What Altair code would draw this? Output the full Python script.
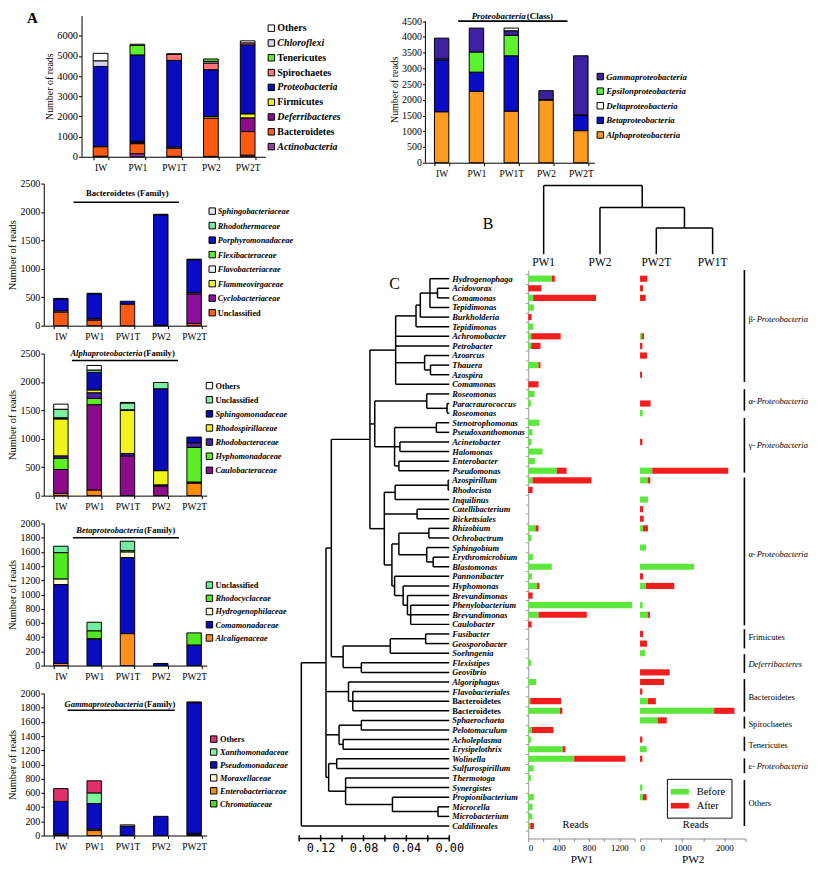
import altair as alt
import pandas as pd

FONT = "Liberation Serif"
MONO = "DejaVu Sans Mono"
GREEN = "#5BE83A"
RED = "#F21D1D"
samples = ["IW", "PW1", "PW1T", "PW2", "PW2T"]

# ---------------- Panel A : phylum level ----------------
phylum_cats = ["Actinobacteria", "Bacteroidetes", "Deferribacteres", "Firmicutes",
               "Proteobacteria", "Spirochaetes", "Tenericutes", "Chloroflexi", "Others"]
phylum_italic = [1, 0, 1, 0, 1, 0, 0, 1, 0]
phylum_colors = ["#9B3C96", "#FF5A14", "#8C0C8C", "#F2F21C", "#0B0BBE",
                 "#FF7474", "#5CEE2A", "#D6D6E8", "#FFFFFF"]
phylum_IW = [30, 470, 0, 20, 3960, 0, 0, 280, 370]
phylum_PW1 = [150, 500, 60, 60, 4280, 0, 480, 0, 50]
phylum_PW1T = [20, 400, 0, 60, 4300, 300, 0, 0, 30]
phylum_PW2 = [20, 1900, 0, 80, 2320, 330, 120, 80, 0]
phylum_PW2T = [80, 1170, 680, 200, 3420, 100, 0, 0, 100]

# ---------------- Proteobacteria (class) ----------------
class_cats = ["Alphaproteobacteria", "Betaproteobacteria", "Deltaproteobacteria",
              "Epsilonproteobacteria", "Gammaproteobacteria"]
class_italic = [1, 1, 1, 1, 1]
class_colors = ["#FF9A1E", "#0B0BC8", "#FFFFFF", "#5CF22E", "#3C22A0"]
class_IW = [1620, 1650, 30, 0, 660]
class_PW1 = [2270, 610, 0, 640, 760]
class_PW1T = [1640, 1760, 90, 650, 140]
class_PW2 = [1990, 20, 0, 0, 280]
class_PW2T = [1020, 480, 20, 0, 1880]

# ---------------- Bacteroidetes (family) ----------------
bact_cats = ["Unclassified", "Cyclobacteriaceae", "Flammeovirgaceae", "Flavobacteriaceae",
             "Flexibacteraceae", "Porphyromonadaceae", "Rhodothermaceae", "Sphingobacteriaceae"]
bact_italic = [0, 1, 1, 1, 1, 1, 1, 1]
bact_colors = ["#FF5A14", "#8C0C9C", "#F2F21C", "#EEF6FF", "#5CEE2A", "#0B0BC8", "#78E8A0", "#E4E4EE"]
bact_IW = [240, 0, 20, 0, 0, 210, 0, 10]
bact_PW1 = [100, 30, 0, 0, 0, 430, 0, 10]
bact_PW1T = [380, 0, 0, 0, 0, 50, 0, 0]
bact_PW2 = [0, 0, 10, 0, 0, 1940, 0, 10]
bact_PW2T = [40, 520, 20, 0, 0, 580, 0, 10]

# ---------------- Alphaproteobacteria (family) ----------------
alpha_cats = ["(unlabeled)", "Caulobacteraceae", "Hyphomonadaceae", "Rhodobacteraceae",
              "Rhodospirillaceae", "Sphingomonadaceae", "Unclassified", "Others"]
alpha_italic = [0, 1, 1, 1, 1, 1, 0, 0]
alpha_colors = ["#FF8C00", "#8C0C8C", "#5CEE22", "#4A22A6", "#F2F21C", "#0B0BB4", "#7EF0A0", "#FFFFFF"]
alpha_IW = [40, 420, 200, 40, 650, 20, 150, 90]
alpha_PW1 = [100, 1500, 110, 100, 50, 310, 40, 80]
alpha_PW1T = [0, 700, 0, 40, 760, 10, 120, 10]
alpha_PW2 = [0, 170, 0, 20, 250, 1440, 110, 0]
alpha_PW2T = [220, 20, 610, 80, 0, 100, 0, 0]

# ---------------- Betaproteobacteria (family) ----------------
beta_cats = ["Alcaligenaceae", "Comamonadaceae", "Hydrogenophilaceae", "Rhodocyclaceae", "Unclassified"]
beta_italic = [1, 1, 1, 1, 0]
beta_colors = ["#FF9020", "#0B0BC0", "#FFFFD2", "#50E820", "#72EC9E"]
beta_IW = [30, 1110, 80, 370, 90]
beta_PW1 = [0, 370, 10, 110, 120]
beta_PW1T = [450, 1070, 80, 20, 130]
beta_PW2 = [0, 30, 0, 0, 0]
beta_PW2T = [0, 290, 0, 170, 0]

# ---------------- Gammaproteobacteria (family) ----------------
gamma_cats = ["Chromatiaceae", "Enterobacteriaceae", "Moraxellaceae", "Pseudomonadaceae",
              "Xanthomonadaceae", "Others"]
gamma_italic = [1, 1, 1, 1, 1, 0]
gamma_colors = ["#48DD22", "#FF8C00", "#FFFFD2", "#0B0BC0", "#7EF59A", "#E2306E"]
gamma_IW = [0, 20, 0, 460, 0, 180]
gamma_PW1 = [0, 70, 20, 360, 150, 170]
gamma_PW1T = [0, 0, 20, 130, 0, 0]
gamma_PW2 = [0, 0, 0, 270, 0, 0]
gamma_PW2T = [15, 0, 15, 1840, 0, 10]

# ---------------- Panel B : sample clustering ----------------
b_leaves = ["PW1", "PW2", "PW2T", "PW1T"]
b_tree = (1.0, [0, (0.68, [1, (0.38, [2, 3])])])

# ---------------- Panel C : genera ----------------
taxa = ["Hydrogenophaga", "Acidovorax", "Comamonas", "Tepidimonas", "Burkholderia", "Tepidimonas",
        "Achromobacter", "Petrobacter", "Azoarcus", "Thauera", "Azospira", "Comamonas",
        "Roseomonas", "Paracraurococcus", "Roseomonas", "Stenotrophomonas", "Pseudoxanthomonas",
        "Acinetobacter", "Halomonas", "Enterobacter", "Pseudomonas", "Azospirillum", "Rhodocista",
        "Inquilinus", "Catellibacterium", "Rickettsiales", "Rhizobium", "Ochrobactrum",
        "Sphingobium", "Erythromicrobium", "Blastomonas", "Pannonibacter", "Hyphomonas",
        "Brevundimonas", "Phenylobacterium", "Brevundimonas", "Caulobacter", "Fusibacter",
        "Geosporobacter", "Soehngenia", "Flexistipes", "Geovibrio", "Algoriphagus",
        "Flavobacteriales", "Bacteroidetes", "Bacteroidetes", "Sphaerochaeta", "Pelotomaculum",
        "Acholeplasma", "Erysipelothrix", "Wolinella", "Sulfurospirillum", "Thermotoga",
        "Synergistes", "Propionibacterium", "Microcella", "Microbacterium", "Caldilineales"]
taxa_italic = [0 if t == "Bacteroidetes" else 1 for t in taxa]

pw1_before = [310, 0, 65, 74, 0, 65, 39, 39, 0, 135, 0, 0, 83, 35, 0, 148, 57, 44, 187, 87,
              375, 57, 0, 0, 0, 0, 96, 44, 0, 61, 310, 48, 118, 0, 1368, 135, 0, 0, 0, 0,
              39, 0, 105, 0, 26, 418, 0, 48, 35, 453, 605, 70, 35, 0, 74, 57, 52, 26]
pw1_after = [40, 174, 828, 0, 44, 0, 388, 122, 0, 26, 0, 135, 0, 0, 0, 0, 0, 0, 0, 0,
             130, 775, 57, 0, 0, 0, 39, 0, 0, 0, 0, 0, 30, 57, 0, 636, 44, 0, 0, 0,
             0, 0, 0, 0, 405, 31, 0, 283, 0, 35, 672, 0, 0, 0, 0, 0, 0, 48]
pw2_before = [0, 0, 0, 0, 0, 0, 39, 0, 0, 0, 0, 0, 0, 0, 62, 0, 0, 0, 0, 0,
              289, 180, 0, 187, 0, 0, 70, 0, 141, 0, 1281, 0, 141, 0, 62, 180, 0, 0, 0, 117,
              0, 0, 0, 0, 187, 1757, 422, 0, 0, 156, 0, 0, 0, 55, 70, 0, 0, 0]
pw2_after = [172, 70, 133, 0, 0, 0, 55, 55, 164, 0, 47, 0, 0, 250, 0, 0, 0, 55, 0, 0,
             1804, 62, 0, 0, 70, 86, 117, 0, 0, 0, 0, 70, 671, 0, 0, 54, 0, 70, 164, 0,
             0, 703, 570, 55, 188, 484, 211, 0, 55, 0, 55, 0, 0, 0, 86, 0, 0, 0]

# dendrogram: (merge distance, [children]); integers are rows of `taxa`
beta_clade = (0.050, [(0.031, [(0.027, [(0.018, [0, (0.011, [1, 2]), 3]), 4]), 5]), 6, 7,
                      (0.023, [8, (0.0175, [9, 10])]), 11])
alphaR_clade = (0.021, [12, (0.002, [13, 14])])
gamma_clade = (0.051, [(0.012, [15, 16]), (0.046, [17, 18]), (0.047, [19, 20])])
alpha_clade = (0.0606, [(0.0505, [(0.001, [21, 22]), 23]), (0.030, [24, 25]),
                        (0.0535, [(0.047, [(0.019, [26, 27]), (0.021, [28, (0.015, [29, 30])])]),
                                  (0.051, [31, (0.043, [32, (0.039, [33, (0.036, [34, 35, 36])])])])])])
proteo_clade = (0.074, [beta_clade, (0.0695, [alphaR_clade, gamma_clade]), alpha_clade])
firm_clade = (0.099, [(0.055, [(0.022, [37, 38]), 39]), (0.082, [40, 41])])
bact_clade = (0.094, [42, (0.090, [43, 44, 45])])
spiro_clade = (0.1028, [(0.082, [46, 47]), (0.099, [48, 49])])
other_clade = (0.1125, [(0.105, [50, 51]), (0.0967, [52, 53, (0.053, [54, (0.0105, [55, 56])])])])
genus_tree = (0.138, [(0.115, [(0.110, [proteo_clade, firm_clade]), bact_clade, spiro_clade, other_clade]), 57])

group_prefix = ["β-", "α-", "γ-", "α-", "", "", "", "", "", "ε-", ""]
group_name = ["Proteobacteria", "Proteobacteria", "Proteobacteria", "Proteobacteria", "Frimicutes",
              "Deferribacteres", "Bacteroidetes", "Spirochaetes", "Tenericutes", "Proteobacteria", "Others"]
group_italic = [1, 1, 1, 1, 0, 1, 0, 0, 0, 1, 0]
group_top = [-0.9, 11.5, 14.5, 20.7, 36.5, 39.1, 41.7, 45.6, 47.7, 49.95, 52.2]
group_bottom = [10.75, 13.75, 20.2, 36.1, 38.5, 41.05, 45.1, 46.85, 49.2, 51.5, 57.0]
group_label_row = [4.25, 12.7, 17.3, 28.65, 37.35, 40.1, 43.6, 46.4, 48.6, 50.7, 54.6]


# ======================= helpers =======================
def one():
    return pd.DataFrame({"k": [0]})


def text_at(txt, x, y, size, italic=False, bold=True, align="center", font=FONT, color="black"):
    return alt.Chart(one()).mark_text(
        text=txt, align=align, baseline="middle", font=font, fontSize=size,
        fontStyle="italic" if italic else "normal",
        fontWeight="bold" if bold else "normal", color=color
    ).encode(x=alt.value(x), y=alt.value(y))


def hline(x1, x2, y, w=1.6):
    return alt.Chart(one()).mark_rule(color="black", strokeWidth=w).encode(
        x=alt.value(x1), x2=alt.value(x2), y=alt.value(y))


def spacer(w, h=10):
    return alt.Chart(one()).mark_point(opacity=0, size=1).encode(
        x=alt.value(0), y=alt.value(0)).properties(width=w, height=h)


def stack_frame(cats, series, override):
    rows = []
    for s, vals in zip(samples, series):
        for k, (c, v) in enumerate(zip(cats, vals)):
            if v > 0:
                rows.append({"sample": s, "cat": c, "value": v, "ord": override.get((s, c), k)})
    return pd.DataFrame(rows)


def bar_panel(cats, colors, italic, series, ymax, yvals, width, height, band, leg,
              titles=(), underline=None, override=None, ytitle_size=10.5, label_size=10,
              axis_top=None, extra=()):
    df = stack_frame(cats, series, override or {})
    pin, pout, palign = band
    ysc = alt.Scale(domain=[0, ymax], nice=False, zero=True)
    yax = alt.Axis(values=yvals, format="d", title="Number of reads", tickSize=3, labelPadding=1,
                   titlePadding=2, titleFontSize=ytitle_size, labelFontSize=label_size,
                   domain=axis_top is None)
    xax = alt.Axis(labelAngle=0, tickBand="extent", tickSize=3, labelPadding=3,
                   labelFontSize=9.5, title=None)
    bars = alt.Chart(df).mark_bar(stroke="black", strokeWidth=1).encode(
        x=alt.X("sample:N", sort=samples,
                scale=alt.Scale(domain=samples, paddingInner=pin, paddingOuter=pout, align=palign),
                axis=xax),
        y=alt.Y("value:Q", stack="zero", scale=ysc, axis=yax),
        color=alt.Color("cat:N", scale=alt.Scale(domain=cats, range=colors), legend=None),
        order=alt.Order("ord:Q", sort="ascending"),
    )
    layers = [bars]
    if axis_top is not None:
        layers.append(alt.Chart(one()).mark_rule(color="black", strokeWidth=1).encode(
            x=alt.value(0), y=alt.Y(datum=0, scale=ysc, axis=None), y2=alt.datum(axis_top)))
    lx, ltx, lfirst, lstep, lfs = leg
    labs = [c for c in reversed(cats) if not c.startswith("(")]
    ldf = pd.DataFrame({"i": list(range(len(labs))), "lab": labs,
                        "col": [colors[cats.index(c)] for c in labs],
                        "it": [italic[cats.index(c)] for c in labs]})
    lys = alt.Scale(domain=[-lfirst / lstep, (height - lfirst) / lstep], reverse=True,
                    nice=False, zero=False)
    ly = alt.Y("i:Q", scale=lys, axis=None)
    layers.append(alt.Chart(ldf).mark_square(size=42, stroke="black", strokeWidth=1, opacity=1).encode(
        x=alt.value(lx), y=ly, fill=alt.Fill("col:N", scale=None)))
    for flag, style in [(1, "italic"), (0, "normal")]:
        layers.append(alt.Chart(ldf).transform_filter(f"datum.it == {flag}").mark_text(
            align="left", baseline="middle", font=FONT, fontSize=lfs, fontWeight="bold",
            fontStyle=style, color="black").encode(x=alt.value(ltx), y=ly, text="lab:N"))
    for (txt, x, y, it, al, sz) in titles:
        layers.append(text_at(txt, x, y, sz, italic=it, align=al))
    if underline is not None:
        layers.append(hline(*underline))
    layers.extend(extra)
    return alt.layer(*layers).properties(width=width, height=height).resolve_scale(y="independent")


# ======================= Panel A charts =======================
A1 = bar_panel(phylum_cats, phylum_colors, phylum_italic,
               [phylum_IW, phylum_PW1, phylum_PW1T, phylum_PW2, phylum_PW2T],
               7000, list(range(0, 6001, 1000)), 185, 142, (0.6, 0.3, 0.53),
               (191, 197, 12.6, 14.9, 10),
               titles=[("A", -49.5, 2, False, "center", 15)],
               override={("PW2", "Tenericutes"): 99}, ytitle_size=10, label_size=10.5)

PROTEO = bar_panel(class_cats, class_colors, class_italic,
                   [class_IW, class_PW1, class_PW1T, class_PW2, class_PW2T],
                   4676, list(range(0, 4501, 500)), 170, 148, (0.586, 0.22, 0.59),
                   (176, 182, 61.3, 14.7, 8.8),
                   titles=[("Proteobacteria", 101, 0, True, "right", 9),
                           (" (Class)", 102, 0, False, "left", 9)],
                   underline=(33, 143, 5.5),
                   override={("PW1T", "Deltaproteobacteria"): 99},
                   ytitle_size=10, axis_top=4500)

FAM_BAND = (0.567, 0.23, 0.645)
BACT = bar_panel(bact_cats, bact_colors, bact_italic,
                 [bact_IW, bact_PW1, bact_PW1T, bact_PW2, bact_PW2T],
                 2500, list(range(0, 2501, 500)), 164, 143, FAM_BAND,
                 (169.5, 175, 27.7, 14.6, 8.4),
                 titles=[("Bacteroidetes (Family)", 84, 9.7, False, "center", 8.6)],
                 underline=(30, 136, 18.7))

ALPHA = bar_panel(alpha_cats, alpha_colors, alpha_italic,
                  [alpha_IW, alpha_PW1, alpha_PW1T, alpha_PW2, alpha_PW2T],
                  2500, list(range(0, 2501, 500)), 164, 143, FAM_BAND,
                  (166.7, 172.7, 32.3, 14.2, 8.4),
                  titles=[("Alphaproteobacteria", 99.3, -0.3, True, "right", 8.6),
                          (" (Family)", 100.3, -0.3, False, "left", 8.6)],
                  underline=(28.3, 135, 7))

BETA = bar_panel(beta_cats, beta_colors, beta_italic,
                 [beta_IW, beta_PW1, beta_PW1T, beta_PW2, beta_PW2T],
                 2000, list(range(0, 2001, 200)), 164, 143, FAM_BAND,
                 (166.7, 172.7, 62, 13.3, 8.4),
                 titles=[("Betaproteobacteria", 100, 7, True, "right", 8.6),
                         (" (Family)", 101, 7, False, "left", 8.6)],
                 underline=(29.3, 136, 14.4))

GAMMA = bar_panel(gamma_cats, gamma_colors, gamma_italic,
                  [gamma_IW, gamma_PW1, gamma_PW1T, gamma_PW2, gamma_PW2T],
                  2000, list(range(0, 2001, 200)), 164, 143, FAM_BAND,
                  (171, 177.3, 46, 13, 8.4),
                  titles=[("Gammaproteobacteria", 100, 10.3, True, "right", 8.6),
                          (" (Family)", 101, 10.3, False, "left", 8.6)],
                  underline=(24, 131.7, 17),
                  override={("PW1T", "Moraxellaceae"): 99})


# ======================= Panel B =======================
def build_vtree(node, segs):
    if isinstance(node, int):
        return float(node), 0.0
    h, kids = node
    xs = []
    for kid in kids:
        kx, kh = build_vtree(kid, segs)
        segs.append({"x": kx, "x2": kx, "y": kh, "y2": h})
        xs.append(kx)
    segs.append({"x": xs[0], "x2": xs[-1], "y": h, "y2": h})
    return (xs[0] + xs[-1]) / 2, h


bsegs = []
build_vtree(b_tree, bsegs)
bseg_df = pd.DataFrame(bsegs)
blab_df = pd.DataFrame({"x": list(range(len(b_leaves))), "lab": b_leaves, "y": [-0.130] * len(b_leaves)})
BW, BH = 430, 86
BXS = alt.Scale(domain=[-246 / 56.67, (BW - 246) / 56.67], nice=False, zero=False)
BYS = alt.Scale(domain=[-(BH - 71) / 69, 71 / 69], nice=False, zero=False)
B = alt.layer(
    alt.Chart(bseg_df).mark_rule(color="black", strokeWidth=1.5).encode(
        x=alt.X("x:Q", scale=BXS, axis=None), x2="x2:Q",
        y=alt.Y("y:Q", scale=BYS, axis=None), y2="y2:Q"),
    alt.Chart(blab_df).mark_text(font=FONT, fontSize=11.5, baseline="middle").encode(
        x=alt.X("x:Q", scale=BXS, axis=None), y=alt.Y("y:Q", scale=BYS, axis=None), text="lab:N"),
    text_at("B", 190, 41, 16, bold=False),
).properties(width=BW, height=BH)


# ======================= Panel C =======================
def build_htree(node, segs):
    if isinstance(node, int):
        return float(node), 0.0
    h, kids = node
    ys = []
    for kid in kids:
        ky, kh = build_htree(kid, segs)
        segs.append({"x": h, "x2": kh, "y": ky, "y2": ky})
        ys.append(ky)
    segs.append({"x": h, "x2": h, "y": ys[0], "y2": ys[-1]})
    return (ys[0] + ys[-1]) / 2, h


csegs = []
build_htree(genus_tree, csegs)
cseg_df = pd.DataFrame(csegs)
leaf_df = pd.DataFrame({"x": [0.0] * len(taxa), "y": list(range(len(taxa))), "lab": taxa, "it": taxa_italic})
ticks = [0.14, 0.12, 0.10, 0.08, 0.06, 0.04, 0.02, 0.0]
tick_df = pd.DataFrame({"x": ticks, "y": [57.95] * len(ticks), "y2": [58.6] * len(ticks)})
axis_df = pd.DataFrame({"x": [0.14], "x2": [0.0], "y": [58.3]})

DW, CH = 225, 572
XS = alt.Scale(domain=[0.14, -0.0686], nice=False, zero=False)
YS = alt.Scale(domain=[-0.9, 58.3], reverse=True, nice=False, zero=False)
XA = alt.Axis(values=[0.12, 0.08, 0.04, 0.0], format=".2f", domain=False, ticks=False,
              labelFont=MONO, labelFontSize=12, labelPadding=4, title=None, grid=False)
CX = alt.X("x:Q", scale=XS, axis=XA)
CY = alt.Y("y:Q", scale=YS, axis=None)

dendro_layers = [
    alt.Chart(cseg_df).mark_rule(color="black", strokeWidth=1.5).encode(x=CX, x2="x2:Q", y=CY, y2="y2:Q"),
    alt.Chart(axis_df).mark_rule(color="black", strokeWidth=1.5).encode(x=CX, x2="x2:Q", y=CY),
    alt.Chart(tick_df).mark_rule(color="black", strokeWidth=1.5).encode(x=CX, y=CY, y2="y2:Q"),
    text_at("C", 96, 14, 16, bold=False),
]
for flag, style in [(1, "italic"), (0, "normal")]:
    dendro_layers.append(
        alt.Chart(leaf_df).transform_filter(f"datum.it == {flag}").mark_text(
            align="left", baseline="middle", dx=3, font=FONT, fontSize=8.5, fontWeight="bold",
            fontStyle=style, color="black").encode(x=CX, y=CY, text="lab:N"))
DENDRO = alt.layer(*dendro_layers).properties(width=DW, height=CH)


def pw_panel(before, after, xmax, step, every, width, title, legend=False, reads_x=50, extra=()):
    rows = []
    for i, (b, a) in enumerate(zip(before, after)):
        if b > 0:
            rows.append({"row": i, "kind": "Before", "x0": 0, "x1": b})
        if a > 0:
            rows.append({"row": i, "kind": "After", "x0": b, "x1": b + a})
    df = pd.DataFrame(rows)
    xs = alt.Scale(domain=[0, xmax], nice=False, zero=True)
    xa = alt.Axis(values=list(range(0, xmax + 1, step)), format="d",
                  labelExpr=f"datum.value % {every} == 0 ? datum.label : ''",
                  title=title, titleFontSize=11.3, titleFontWeight="normal", titlePadding=1,
                  labelFontSize=9, tickSize=3, labelPadding=2,
                  domainColor="#8c8c8c", tickColor="#8c8c8c", grid=False)
    ya = alt.Axis(values=[i + 0.5 for i in range(-1, 58)], labels=False, tickSize=3,
                  domainColor="#9a9a9a", tickColor="#9a9a9a", title=None, grid=False)
    if legend:
        leg = alt.Legend(title=None, orient="none", legendX=27, legendY=512, strokeColor="black",
                         padding=6, symbolType="M-1.3,-0.4H1.3V0.4H-1.3Z", symbolSize=196,
                         symbolStrokeWidth=0, labelFont=FONT, labelFontSize=10.5,
                         labelOffset=10, rowPadding=1, fillColor="white")
    else:
        leg = None
    bars = alt.Chart(df).transform_calculate(
        y0="datum.row - 0.32", y1="datum.row + 0.32").mark_rect().encode(
        x=alt.X("x0:Q", scale=xs, axis=xa), x2="x1:Q",
        y=alt.Y("y0:Q", scale=YS, axis=ya), y2="y1:Q",
        color=alt.Color("kind:N", scale=alt.Scale(domain=["Before", "After"], range=[GREEN, RED]),
                        legend=leg))
    layers = [bars, text_at("Reads", reads_x, 558, 10.6, bold=False)]
    layers.extend(extra)
    return alt.layer(*layers).properties(width=width, height=CH)


PW1 = pw_panel(pw1_before, pw1_after, 1400, 200, 400, 107, "PW1", reads_x=47.5)

gdf = pd.DataFrame({"pre": group_prefix, "name": group_name, "it": group_italic,
                    "g0": group_top, "g1": group_bottom, "gy": group_label_row})
GY = alt.Y("gy:Q", scale=YS, axis=None)
GFS = 8.6
bracket_layers = [
    alt.Chart(gdf).mark_rule(color="black", strokeWidth=1.6).encode(
        x=alt.value(105), y=alt.Y("g0:Q", scale=YS, axis=None), y2="g1:Q"),
    alt.Chart(gdf).transform_filter("datum.pre != ''").mark_text(
        align="left", baseline="middle", font=FONT, fontSize=GFS, color="black").encode(
        x=alt.value(109), y=GY, text="pre:N"),
    alt.Chart(gdf).transform_filter("datum.pre != ''").mark_text(
        align="left", baseline="middle", font=FONT, fontSize=GFS, fontStyle="italic", color="black").encode(
        x=alt.value(117.3), y=GY, text="name:N"),
    alt.Chart(gdf).transform_filter("datum.pre == '' && datum.it == 1").mark_text(
        align="left", baseline="middle", font=FONT, fontSize=GFS, fontStyle="italic", color="black").encode(
        x=alt.value(109), y=GY, text="name:N"),
    alt.Chart(gdf).transform_filter("datum.pre == '' && datum.it == 0").mark_text(
        align="left", baseline="middle", font=FONT, fontSize=GFS, color="black").encode(
        x=alt.value(109), y=GY, text="name:N"),
]
PW2 = pw_panel(pw2_before, pw2_after, 2500, 500, 1000, 106, "PW2", legend=True, reads_x=56,
               extra=bracket_layers)

# ======================= assembly =======================
top_row = alt.hconcat(spacer(36), A1, spacer(157), PROTEO, spacing=2,
                      bounds="flush").resolve_scale(color="independent")
left_col = alt.vconcat(BACT, ALPHA, BETA, GAMMA, spacing=28, bounds="flush").resolve_scale(color="independent")
C = alt.hconcat(DENDRO, PW1, PW2, spacing=5.5, bounds="flush").resolve_scale(color="independent")
right_col = alt.vconcat(B, C, spacing=0).resolve_scale(color="independent")
bottom_row = alt.hconcat(left_col, right_col, spacing=5).resolve_scale(color="independent")

chart = alt.vconcat(top_row, bottom_row, spacing=0).resolve_scale(color="independent").properties(
    padding={"left": 0, "top": 0, "right": 0, "bottom": 0}
).configure(font=FONT).configure_view(stroke=None).configure_axis(
    grid=False, labelFont=FONT, titleFont=FONT, labelColor="black", titleColor="black",
    domainColor="black", tickColor="black", titleFontWeight="normal")

chart.save("out.html", embed_options={"renderer": "svg", "actions": False})
